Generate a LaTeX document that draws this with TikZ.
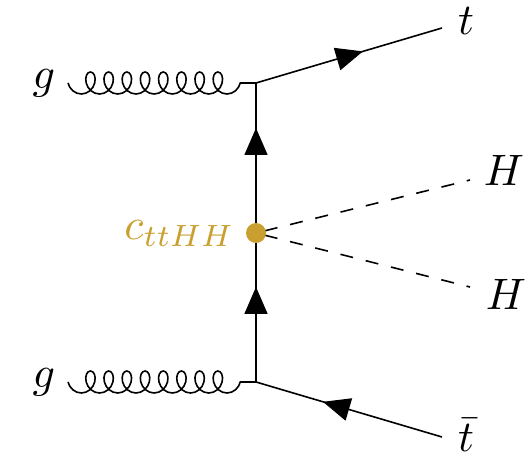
\documentclass[tikz,border=0pt]{standalone}
\usetikzlibrary{decorations.pathmorphing,decorations.markings,arrows.meta}
\definecolor{gold}{RGB}{201,160,48}
\begin{document}
\begin{tikzpicture}[x=1pt,y=-1pt,
  line width=1.6pt,
  fermion/.style={draw, postaction={decorate}, decoration={markings, mark=at position #1 with {\arrow{Triangle[length=27pt,width=23pt]}}}},
  gluon/.style={draw, decorate, decoration={coil, mirror, aspect=0.8, amplitude=11pt, segment length=18.2pt, post length=10pt}},
  scalar/.style={draw, dash pattern=on 13pt off 13pt, dash phase=16.9pt},
  lbl/.style={scale=4.4, inner sep=0pt}]
\useasboundingbox (0,0) rectangle (531,462);
% vertices and ends
\coordinate (v1) at (256,83);
\coordinate (v2) at (256,382);
\coordinate (g1) at (68,83);
\coordinate (g2) at (68,382);
\coordinate (tend) at (442,28);
\coordinate (tbend) at (442,437);
\coordinate (h1) at (470,180);
\coordinate (h2) at (470,287);
\coordinate (vc) at (256,233);
% lines
\draw[gluon] (g1) -- (v1);
\draw[gluon] (g2) -- (v2);
\path[fermion=0.575] (v1) -- (tend);
\path[fermion=0.64] (tbend) -- (v2);
\path[fermion=0.638] (v2) -- (vc);
\path[fermion=0.70] (vc) -- (v1);
\path[scalar] (vc) -- (h1);
\path[scalar] (vc) -- (h2);
\node[circle, fill=gold, minimum size=20pt, inner sep=0pt] (c) at (vc) {};
% labels
\node[lbl, anchor=base] (lg1) at (44,88.5) {$g$};
\node[lbl, anchor=base] (lg2) at (44,387.5) {$g$};
\node[lbl, anchor=base] (lt) at (466,34.5) {$t$};
\node[lbl, anchor=base] (ltb) at (466,451.5) {$\bar{t}$};
\node[lbl, anchor=base] (lh1) at (504,186) {$H$};
\node[lbl, anchor=base] (lh2) at (506,310) {$H$};
\node[lbl, anchor=base east, text=gold] (lc) at (238,240) {$c_{ttHH}$};
\end{tikzpicture}
\end{document}
